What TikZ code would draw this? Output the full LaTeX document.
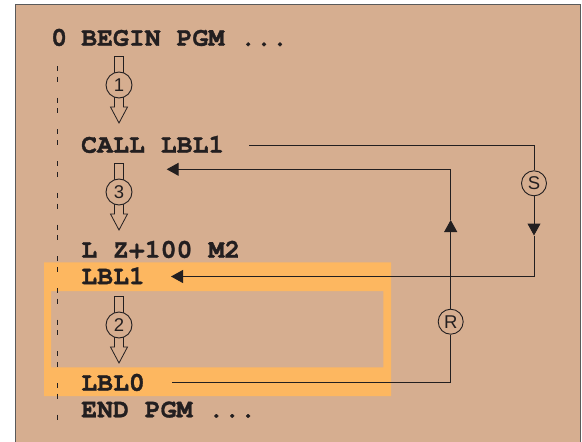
\documentclass[tikz,border=0pt]{standalone}
\usepackage{fontspec}
\setmainfont{Liberation Sans}
\newfontfamily\codefont{TeX Gyre Cursor}[BoldFeatures={FakeBold=1.2}]
\usetikzlibrary{arrows.meta,calc}
\definecolor{bg}{HTML}{D6AE90}
\definecolor{hl}{HTML}{FDB760}
\definecolor{ink}{HTML}{231F20}
\definecolor{framec}{HTML}{5A5A5A}
\tikzset{
  code/.style={font=\codefont\bfseries\fontsize{26.5}{26.5}\selectfont, text=ink, anchor=base west, inner sep=0pt},
  num/.style={circle, draw=ink, line width=0.9pt, fill=bg, minimum size=25pt, inner sep=0pt, font=\fontsize{18.5}{18.5}\selectfont, text=ink},
  conn/.style={draw=ink, line width=1pt},
  tip/.style={-{Triangle[length=12pt,width=13pt]}},
  hollow/.style={draw=ink, line width=0.8pt, line join=miter},
  blockarrow/.pic={
    \draw[hollow] (-4.5,29) -- (-4.5,0) -- (4.5,0) -- (4.5,29);
    \draw[hollow] (-4.5,29) -- (-4.5,51) -- (-8.5,51) -- (0,67) -- (8.5,51) -- (4.5,51) -- (4.5,29);
    \node[num, minimum size=26pt] (-c) at (0,29) {#1};
  }
}
\begin{document}
\begin{tikzpicture}[x=1pt,y=-1pt]
\useasboundingbox (0,0) rectangle (582,442);
\clip (0,0) rectangle (582,442);
% frame
\draw[fill=bg, draw=framec, line width=1.3pt] (15.5,4.6) rectangle (580.5,460);
% highlight band
\fill[hl, even odd rule] (44,262.3) rectangle (391,396) (51,291) rectangle (383.3,367.3);
% dashed margin line
\draw[ink, line width=1.3pt, dash pattern=on 5pt off 5.7pt on 5pt off 16pt] (57.7,66) -- (57.7,420.7);
% code lines
\node[code] (l0)   at (51,45.7)  {0};
\node[code] (begin) at (81,45.7) {BEGIN PGM ...};
\node[code] (call) at (81,152.7) {CALL LBL1};
\node[code] (lz)   at (81,257.7) {L Z+100 M2};
\node[code] (lbl1) at (81,284.2) {LBL1};
\node[code] (lbl0) at (81,390.7) {LBL0};
\node[code] (endp) at (81,417.3) {END PGM ...};
% block arrows
\pic (a1) at (119,56) {blockarrow=1};
\pic (a3) at (119,163) {blockarrow=3};
\pic (a2) at (119,296) {blockarrow=2};
% S and R markers
\node[num] (S) at (534,183.3) {S};
\node[num] (R) at (450.7,321.7) {R};
% connectors
\coordinate (callR) at (249,145);
\coordinate (sarrow) at (534,235.5);
\coordinate (lbl1in) at (171,276.5);
\draw[conn] (callR) -| (S.north);
\draw[conn,tip] (S.south) -- (sarrow);
\draw[conn,tip] (sarrow) |- (lbl1in);
\coordinate (lbl0out) at (172,382.7);
\coordinate (rarrow) at (450.7,220);
\coordinate (callin) at (166.7,169.3);
\draw[conn] (lbl0out) -| (R.south);
\draw[conn,tip] (R.north) -- (rarrow);
\draw[conn,tip] (rarrow) |- (callin);
\end{tikzpicture}
\end{document}
